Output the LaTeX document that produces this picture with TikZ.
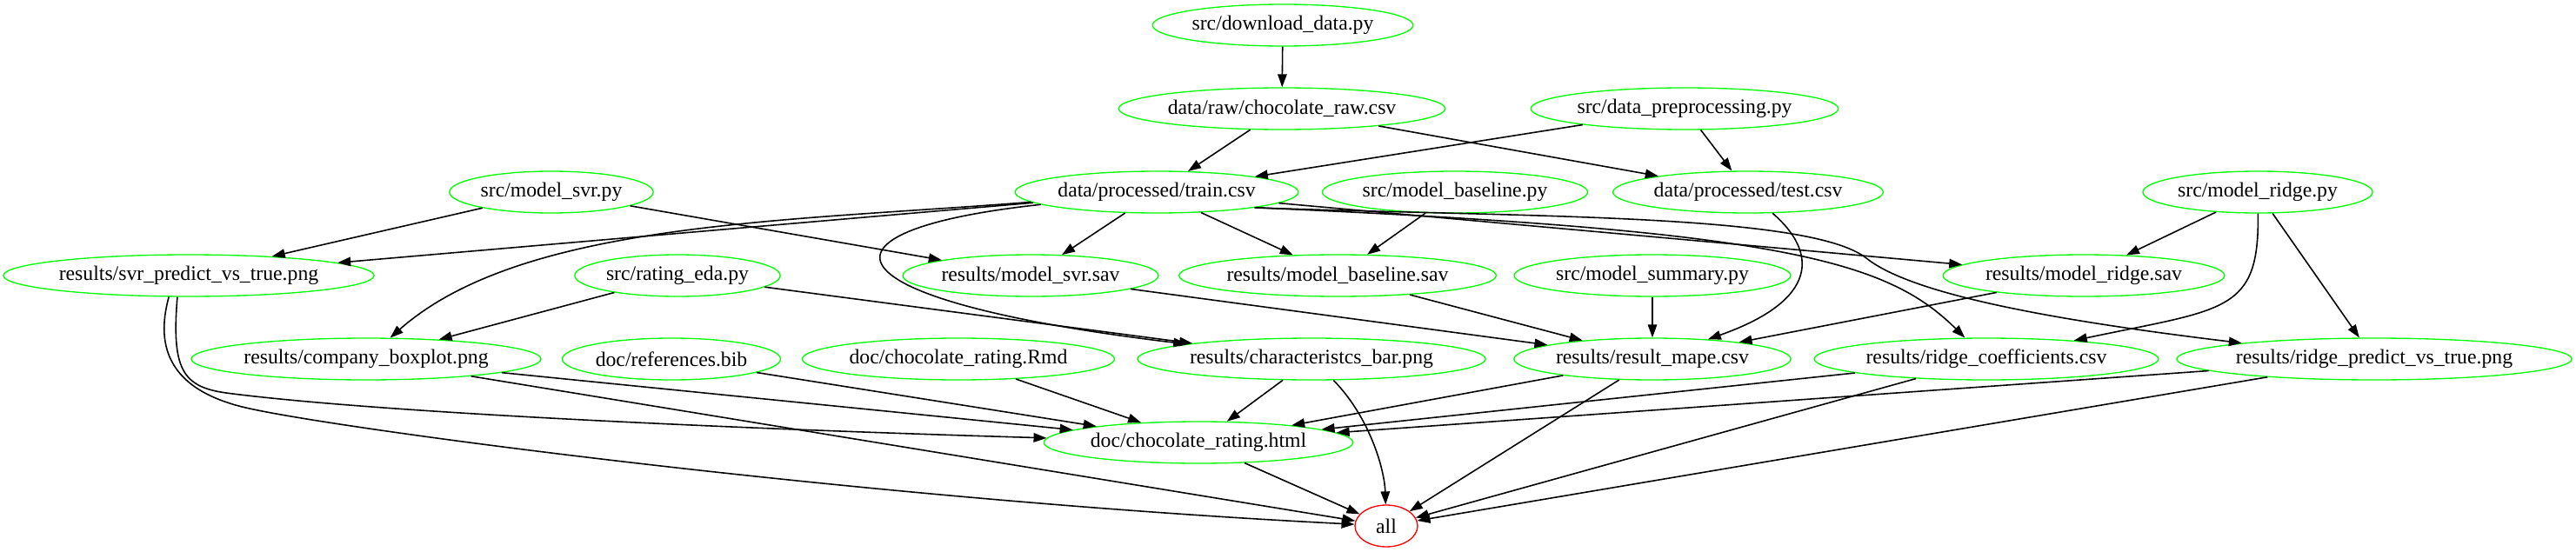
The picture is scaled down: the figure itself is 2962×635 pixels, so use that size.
\documentclass[tikz,border=0pt]{standalone}
\usepackage{fontspec}
\setmainfont{Liberation Serif}
\usetikzlibrary{shapes.geometric, arrows.meta}

\begin{document}
\begin{tikzpicture}[x=0.02cm, y=-0.02cm,
  fl/.style={ellipse,draw=green,line width=0.75pt,font=\fontsize{13.5pt}{16pt}\selectfont,inner xsep=0.03cm,inner ysep=0pt,minimum height=0.96cm,minimum width=1.44cm},
  tgt/.style={fl,draw=red},
  dep/.style={-{Triangle[length=0.3cm,width=0.21cm]},line width=0.9pt}
]
  \useasboundingbox (0,0) rectangle (2962,635);
  % scripts and data
  \node[fl](dl) at (1475,29)  {src/download\_data.py};
  \node[fl](raw) at (1474,125) {data/raw/chocolate\_raw.csv};
  \node[fl](prep) at (1937,125) {src/data\_preprocessing.py};
  \node[fl](svrpy) at (634,221) {src/model\_svr.py};
  \node[fl](train) at (1330,221) {data/processed/train.csv};
  \node[fl](basepy) at (1673,221) {src/model\_baseline.py};
  \node[fl](test) at (2010,221) {data/processed/test.csv};
  \node[fl](ridgepy) at (2596,221) {src/model\_ridge.py};
  \node[fl](svrpred) at (217,317) {results/svr\_predict\_vs\_true.png};
  \node[fl](eda) at (779,317) {src/rating\_eda.py};
  \node[fl](svrsav) at (1185,317) {results/model\_svr.sav};
  \node[fl](basesav) at (1538,317) {results/model\_baseline.sav};
  \node[fl](sumpy) at (1900,317) {src/model\_summary.py};
  \node[fl](ridgesav) at (2396,317) {results/model\_ridge.sav};
  \node[fl](boxplot) at (421,413) {results/company\_boxplot.png};
  \node[fl](bib) at (772,413) {doc/references.bib};
  \node[fl](rmd) at (1102,413) {doc/chocolate\_rating.Rmd};
  \node[fl](bar) at (1508,413) {results/characteristcs\_bar.png};
  \node[fl](mape) at (1900,413) {results/result\_mape.csv};
  \node[fl](ridgecoef) at (2284,413) {results/ridge\_coefficients.csv};
  \node[fl](ridgepred) at (2730,413) {results/ridge\_predict\_vs\_true.png};
  \node[fl](html) at (1378,509) {doc/chocolate\_rating.html};
  \node[tgt](all) at (1594,605) {all};

  % straight dependencies
  \foreach \a/\b in {dl/raw,raw/train,raw/test,prep/train,prep/test,svrpy/svrpred,svrpy/svrsav,
    train/svrpred,train/svrsav,train/basesav,train/ridgesav,basepy/basesav,ridgepy/ridgesav,
    ridgepy/ridgepred,eda/boxplot,eda/bar,svrsav/mape,basesav/mape,sumpy/mape,ridgesav/mape,
    boxplot/html,boxplot/all,bib/html,rmd/html,bar/html,mape/html,mape/all,ridgecoef/html,
    ridgecoef/all,ridgepred/html,ridgepred/all,html/all}
    {\draw[dep](\a)--(\b);}

  % curved dependencies
  \draw[dep](train) .. controls (900,255) and (600,255) .. (boxplot);
  \draw[dep](train) .. controls (920,265) and (940,345) .. (bar);
  \draw[dep](train.-9) .. controls (2050,265) and (2170,300) .. (ridgecoef);
  \draw[dep](train.-9) .. controls (1750,250) and (2080,245) .. (2146,297) .. controls (2190,332) and (2315,363) .. (ridgepred);
  \draw[dep](test) .. controls (2090,290) and (2092,345) .. (mape);
  \draw[dep](ridgepy) .. controls (2598,360) and (2559,355) .. (ridgecoef);
  \draw[dep](svrpred.242) .. controls (197,425) and (210,445) .. (260,452) .. controls (420,473) and (800,492) .. (html);
  \draw[dep](svrpred.227) .. controls (178,400) and (195,450) .. (287,470) .. controls (400,495) and (1000,575) .. (all);
  \draw[dep](bar.-44) .. controls (1575,480) and (1592,540) .. (all);
\end{tikzpicture}
\end{document}
